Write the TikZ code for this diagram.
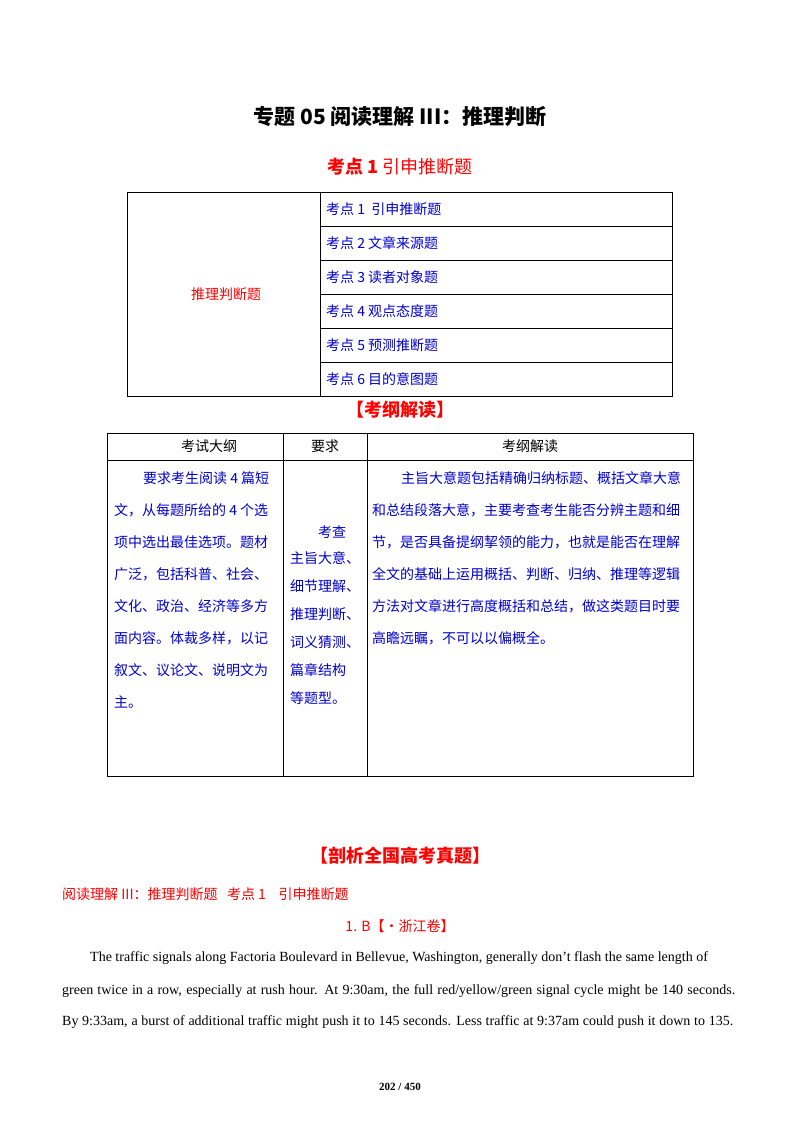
\documentclass[tikz,border=0pt]{standalone}
\usepackage{fontspec}
\setmainfont{Liberation Serif}
\newfontfamily\cjk{Noto Sans CJK SC}
\definecolor{rd}{RGB}{255,0,0}
\definecolor{bl}{RGB}{0,0,204}
\begin{document}
\begin{tikzpicture}[x=1pt,y=-1pt,
  cell/.style={draw=black,line width=0.8pt},
  t/.style={inner sep=0pt,font=\cjk\fontsize{14}{14}\selectfont},
  bt/.style={t,text=bl,anchor=west},
  rt/.style={t,text=rd},
  en/.style={inner sep=0pt,anchor=west,font=\fontsize{14}{14}\selectfont}]
\useasboundingbox[fill=white] (0,0) rectangle (800,1132);
\node[inner sep=0pt,font=\cjk\bfseries\fontsize{21}{21}\selectfont] (title) at (400,117) {专题\ 05\ 阅读理解 III：推理判断};
\node[inner sep=0pt,text=rd,font=\cjk\fontsize{18}{18}\selectfont] (kd) at (400,167) {\textbf{考点 1} 引申推断题};
% table 1
\draw[cell] (127,192) rectangle (672,396);
\draw[cell] (320,192) -- (320,396);
\foreach \y in {226,260,294,328,362} \draw[cell] (320,\y) -- (672,\y);
\node[rt] (tl) at (226,294) {推理判断题};
\node[bt] (r1) at (326,209) {考点 1\ \ 引申推断题};
\node[bt] (r2) at (326,243) {考点 2 文章来源题};
\node[bt] (r3) at (326,277) {考点 3 读者对象题};
\node[bt] (r4) at (326,311) {考点 4 观点态度题};
\node[bt] (r5) at (326,345) {考点 5 预测推断题};
\node[bt] (r6) at (326,379) {考点 6 目的意图题};
\node[rt,font=\cjk\bfseries\fontsize{18}{18}\selectfont] (kg) at (400,410) {【考纲解读】};
% table 2
\draw[cell] (107,433) rectangle (693,776);
\draw[cell] (107,460) -- (693,460);
\draw[cell] (283,433) -- (283,776);
\draw[cell] (367,433) -- (367,776);
\node[t] (h1) at (209,446) {考试大纲};
\node[t] (h2) at (325,446) {要求};
\node[t] (h3) at (530,446) {考纲解读};
\foreach \s/\y/\x in {要求考生阅读 4 篇短/478/143, 文，从每题所给的 4 个选/510/114, 项中选出最佳选项。题材/542/114, 广泛，包括科普、社会、/574/114, 文化、政治、经济等多方/606/114, 面内容。体裁多样，以记/638/114, 叙文、议论文、说明文为/670/114, 主。/702/114}
  \node[bt] at (\x,\y) {\s};
\node[bt] at (318,532) {考查};
\foreach \s/\y in {主旨大意、/558, 细节理解、/586, 推理判断、/614, 词义猜测、/642, 篇章结构/670, 等题型。/698}
  \node[bt] at (290,\y) {\s};
\node[bt] at (401,478) {主旨大意题包括精确归纳标题、概括文章大意};
\foreach \s/\y in {和总结段落大意，主要考查考生能否分辨主题和细/510, 节，是否具备提纲挈领的能力，也就是能否在理解/542, 全文的基础上运用概括、判断、归纳、推理等逻辑/574, 方法对文章进行高度概括和总结，做这类题目时要/606, 高瞻远瞩，不可以以偏概全。/638}
  \node[bt] at (372,\y) {\s};
\node[rt,font=\cjk\bfseries\fontsize{18}{18}\selectfont] (pq) at (400,856) {【剖析全国高考真题】};
\node[rt,anchor=west] (sub) at (62,894) {阅读理解 III：推理判断题\ \ \ 考点 1\ \ \ \ 引申推断题};
\node[rt] (q) at (400,926) {1. B【·浙江卷】};
\node[en] (p1) at (90,958) {The traffic signals along Factoria Boulevard in Bellevue, Washington, generally don{\char"0027}t flash the same length of};
\node[en] (p2) at (62,991) {\makebox[673pt][s]{green twice in a row, especially at rush hour. At 9:30am, the full red/yellow/green signal cycle might be 140 seconds.}};
\node[en] (p3) at (62,1022) {\makebox[671pt][s]{By 9:33am, a burst of additional traffic might push it to 145 seconds. Less traffic at 9:37am could push it down to 135.}};
\node[inner sep=0pt,font=\bfseries\fontsize{11}{11}\selectfont] (pg) at (400,1087) {202 / 450};
\end{tikzpicture}
\end{document}
